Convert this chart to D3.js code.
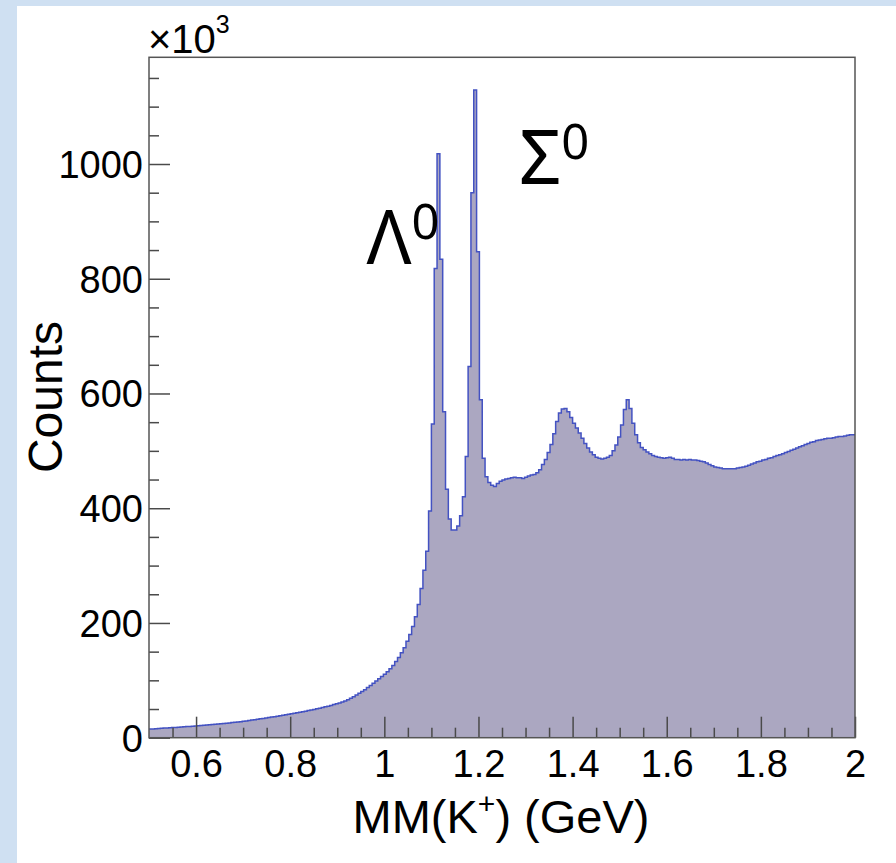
<!DOCTYPE html>
<html>
<head>
<meta charset="utf-8">
<script src="https://cdn.jsdelivr.net/npm/d3@7"></script>
<style>
  html, body { margin: 0; padding: 0; background: #cfe0f2; }
  svg { display: block; }
</style>
</head>
<body>
<svg id="chart" width="896" height="863"></svg>
<script>
// Missing-mass histogram MM(K+), 250 bins from 0.5 to 2.0 GeV, counts in units of 10^3
const binLow = 0.5;
const binHigh = 2.0;
const counts = [
  15.0, 15.3, 15.7, 16.0, 16.3, 16.7, 17.0, 17.3, 17.6, 17.9,
  18.3, 18.7, 19.1, 19.4, 19.7, 20.1, 20.5, 20.8, 21.2, 21.6,
  22.0, 22.4, 22.8, 23.3, 23.8, 24.2, 24.7, 25.2, 25.8, 26.3,
  26.9, 27.5, 28.0, 28.6, 29.3, 30.0, 30.7, 31.4, 32.1, 32.9,
  33.6, 34.4, 35.2, 35.9, 36.7, 37.5, 38.4, 39.2, 40.0, 40.8,
  41.6, 42.5, 43.4, 44.3, 45.3, 46.2, 47.2, 48.2, 49.2, 50.3,
  51.4, 52.6, 53.8, 55.0, 56.3, 57.7, 59.0, 60.6, 62.3, 64.1,
  66.3, 68.8, 71.5, 74.3, 77.3, 80.5, 83.8, 87.3, 91.0, 94.8,
  98.8, 102.8, 106.6, 110.5, 115, 120, 126, 133, 140, 148,
  157, 168, 180, 194, 211, 232, 260, 292, 325, 395,
  547, 818, 1018, 834, 568, 433, 381, 362, 362, 369,
  387, 420, 490, 647, 950, 1129, 847, 589, 487, 455,
  445, 440, 438, 443, 447, 449, 451, 452, 453, 454,
  453, 453, 452, 454, 456, 458, 459, 462, 467, 476,
  485, 497, 511, 530, 551, 566, 573, 574, 568, 558,
  548, 540, 531, 522, 513, 505, 498, 493, 489, 487,
  486, 487, 489, 492, 500, 510, 524, 545, 572, 589,
  574, 548, 528, 514, 506, 502, 498, 495, 492, 490,
  489, 488, 487, 488, 489, 487, 485, 485, 484, 485,
  484, 485, 484, 484, 483, 482, 481, 479, 476, 474,
  472, 471, 470, 469, 469, 469, 469, 469, 470, 471,
  472, 473, 475, 477, 479, 481, 482, 484, 485, 487,
  488, 490, 492, 493, 495, 497, 499, 501, 503, 505,
  507, 509, 511, 513, 515, 516, 518, 519, 520, 521,
  522, 522, 523, 524, 525, 525, 526, 527, 528, 528
];
const yMax = 1186;

const xMajorTicks = [0.6, 0.8, 1.0, 1.2, 1.4, 1.6, 1.8, 2.0];
const xTickLabels = ["0.6", "0.8", "1", "1.2", "1.4", "1.6", "1.8", "2"];
const yMajorTicks = [0, 200, 400, 600, 800, 1000];
const yTickLabels = ["0", "200", "400", "600", "800", "1000"];
const xMinorStep = 0.05;
const yMinorStep = 50;

const peakLabels = [
  { symbol: "Λ", sup: "0", x: 0.962, v: 826 },
  { symbol: "Σ", sup: "0", x: 1.286, v: 965 }
];

const svg = d3.select("#chart");
const rootFont = "'Liberation Sans', Arial, Helvetica, sans-serif";

// white canvas pad
svg.append("rect")
  .attr("x", 17).attr("y", 6)
  .attr("width", 879).attr("height", 857)
  .attr("fill", "#ffffff");

const frame = { left: 149, right: 855, top: 57.3, bottom: 737.7 };
const x = d3.scaleLinear().domain([binLow, binHigh]).range([frame.left, frame.right]);
const y = d3.scaleLinear().domain([0, yMax]).range([frame.bottom, frame.top]);

// histogram as a filled step path
const binWidth = (binHigh - binLow) / counts.length;
const steps = counts.map((v, i) => [binLow + i * binWidth, v]);
steps.push([binHigh, counts[counts.length - 1]]);

svg.append("path")
  .datum(steps)
  .attr("fill", "#aba7c1")
  .attr("d", d3.area()
    .x(d => x(d[0]))
    .y0(y(0))
    .y1(d => y(d[1]))
    .curve(d3.curveStepAfter));

svg.append("path")
  .datum(steps)
  .attr("fill", "none")
  .attr("stroke", "#4352c2")
  .attr("stroke-width", 1.5)
  .attr("d", d3.line()
    .x(d => x(d[0]))
    .y(d => y(d[1]))
    .curve(d3.curveStepAfter));

// minor tick positions
const xMinor = d3.range(binLow + xMinorStep, binHigh - 1e-9, xMinorStep)
  .filter(v => !xMajorTicks.some(m => Math.abs(m - v) < 1e-6));
const yMinor = d3.range(yMinorStep, yMax, yMinorStep)
  .filter(v => !yMajorTicks.some(m => Math.abs(m - v) < 1e-6));

const tickColor = "#4a4a4a";

// x axis ticks (inward)
const gxMinor = svg.append("g")
  .attr("transform", `translate(0,${frame.bottom})`)
  .call(d3.axisBottom(x).tickValues(xMinor).tickSize(-10).tickFormat(""));
const gxMajor = svg.append("g")
  .attr("transform", `translate(0,${frame.bottom})`)
  .call(d3.axisBottom(x).tickValues(xMajorTicks).tickSize(-21).tickPadding(12)
    .tickFormat((d, i) => xTickLabels[i]));

// y axis ticks (inward)
const gyMinor = svg.append("g")
  .attr("transform", `translate(${frame.left},0)`)
  .call(d3.axisLeft(y).tickValues(yMinor).tickSize(-10).tickFormat(""));
const gyMajor = svg.append("g")
  .attr("transform", `translate(${frame.left},0)`)
  .call(d3.axisLeft(y).tickValues(yMajorTicks).tickSize(-21).tickPadding(6)
    .tickFormat((d, i) => yTickLabels[i]));

[gxMinor, gxMajor, gyMinor, gyMajor].forEach(g => {
  g.select(".domain").remove();
  g.selectAll(".tick line").attr("stroke", tickColor).attr("stroke-width", 1.5);
  g.selectAll(".tick text")
    .attr("fill", "#000")
    .style("font-family", rootFont)
    .style("font-size", "38px");
});
gyMajor.selectAll(".tick text").attr("dy", "0.35em");

// frame
svg.append("rect")
  .attr("x", frame.left).attr("y", frame.top)
  .attr("width", frame.right - frame.left)
  .attr("height", frame.bottom - frame.top)
  .attr("fill", "none")
  .attr("stroke", "#555")
  .attr("stroke-width", 1.5);

// exponent label above the y axis
const expo = svg.append("text")
  .attr("x", frame.left - 1).attr("y", 53)
  .style("font-family", rootFont)
  .style("font-size", "40px")
  .attr("fill", "#000");
expo.append("tspan").text("×10");
expo.append("tspan").attr("dy", -20).style("font-size", "25px").text("3");

// axis titles
const xt = svg.append("text")
  .attr("x", 501).attr("y", 833)
  .attr("text-anchor", "middle")
  .style("font-family", rootFont)
  .style("font-size", "47px")
  .attr("fill", "#000");
xt.append("tspan").text("MM(K");
xt.append("tspan").attr("dy", -19).style("font-size", "30px").text("+");
xt.append("tspan").attr("dy", 19).text(") (GeV)");

svg.append("text")
  .attr("transform", "translate(62,397) rotate(-90)")
  .attr("text-anchor", "middle")
  .style("font-family", rootFont)
  .style("font-size", "48px")
  .attr("fill", "#000")
  .text("Counts");

// peak annotations
const labelFont = "'Noto Sans', 'Open Sans', sans-serif";
peakLabels.forEach(p => {
  const t = svg.append("text")
    .attr("x", x(p.x)).attr("y", y(p.v))
    .style("font-family", labelFont)
    .style("font-size", "74px")
    .attr("fill", "#000");
  t.append("tspan").text(p.symbol);
  t.append("tspan").attr("dy", -25).style("font-size", "49px").text(p.sup);
});
</script>
</body>
</html>
